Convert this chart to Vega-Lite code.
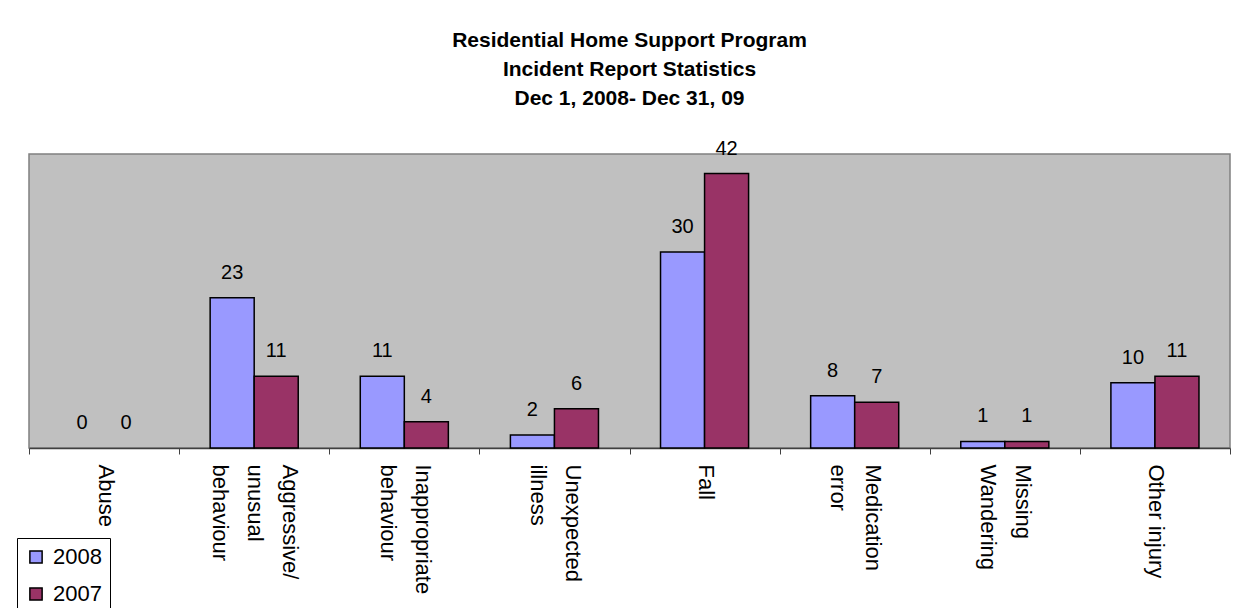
{
  "$schema": "https://vega.github.io/schema/vega-lite/v6.json",
  "autosize": "none",
  "width": 1201,
  "height": 294,
  "padding": {"left": 29, "top": 154, "right": 17, "bottom": 160},
  "background": "white",
  "title": {
    "text": ["Residential Home Support Program", "Incident Report Statistics", "Dec 1, 2008- Dec 31, 09"],
    "font": "Liberation Sans",
    "fontSize": 21,
    "fontWeight": "bold",
    "lineHeight": 29,
    "color": "black",
    "anchor": "middle",
    "frame": "group",
    "offset": 30
  },
  "data": {
    "values": [
      {"category": "Abuse", "year": "2008", "count": 0},
      {"category": "Abuse", "year": "2007", "count": 0},
      {"category": "Aggressive/ unusual behaviour", "year": "2008", "count": 23},
      {"category": "Aggressive/ unusual behaviour", "year": "2007", "count": 11},
      {"category": "Inappropriate behaviour", "year": "2008", "count": 11},
      {"category": "Inappropriate behaviour", "year": "2007", "count": 4},
      {"category": "Unexpected illness", "year": "2008", "count": 2},
      {"category": "Unexpected illness", "year": "2007", "count": 6},
      {"category": "Fall", "year": "2008", "count": 30},
      {"category": "Fall", "year": "2007", "count": 42},
      {"category": "Medication error", "year": "2008", "count": 8},
      {"category": "Medication error", "year": "2007", "count": 7},
      {"category": "Missing Wandering", "year": "2008", "count": 1},
      {"category": "Missing Wandering", "year": "2007", "count": 1},
      {"category": "Other injury", "year": "2008", "count": 10},
      {"category": "Other injury", "year": "2007", "count": 11}
    ]
  },
  "encoding": {
    "x": {
      "field": "category",
      "type": "nominal",
      "sort": null,
      "scale": {"paddingInner": 0, "paddingOuter": 0},
      "axis": {
        "title": null,
        "labelAngle": 90,
        "labelAlign": "left",
        "labelBaseline": "middle",
        "labelFont": "Liberation Sans",
        "labelFontSize": 22,
        "labelColor": "black",
        "labelLineHeight": 35,
        "labelPadding": 10,
        "labelOffset": {
          "condition": [
            {"test": "datum.value == 'Aggressive/ unusual behaviour'", "value": 35},
            {"test": "datum.value == 'Abuse' || datum.value == 'Fall' || datum.value == 'Other injury'", "value": 1}
          ],
          "value": 18
        },
        "labelExpr": "!isValid(datum.value) ? '' : (datum.value == 'Other injury' ? datum.value : split(datum.value, ' '))",
        "labelLimit": 300,
        "tickBand": "extent",
        "tickSize": 6,
        "tickColor": "#404040",
        "tickWidth": 1,
        "domainColor": "#404040",
        "domainWidth": 1.5,
        "grid": false
      }
    },
    "xOffset": {
      "field": "year",
      "type": "nominal",
      "sort": ["2008", "2007"],
      "scale": {"paddingInner": 0, "paddingOuter": 0.7045}
    },
    "y": {
      "field": "count",
      "type": "quantitative",
      "scale": {"domain": [0, 45], "nice": false},
      "axis": null
    }
  },
  "layer": [
    {
      "mark": {"type": "bar", "strokeWidth": 1.5},
      "encoding": {
        "stroke": {"condition": {"test": "datum.count == 0", "value": null}, "value": "black"},
        "color": {
          "field": "year",
          "type": "nominal",
          "sort": ["2008", "2007"],
          "scale": {"domain": ["2008", "2007"], "range": ["#9999FF", "#993366"]},
          "legend": {
            "title": null,
            "orient": "none",
            "legendX": -12,
            "legendY": 384,
            "direction": "vertical",
            "symbolType": "square",
            "symbolSize": 150,
            "symbolStrokeColor": "black",
            "symbolStrokeWidth": 1.5,
            "symbolOpacity": 1,
            "labelFont": "Liberation Sans",
            "labelFontSize": 22,
            "labelColor": "black",
            "labelOffset": 6,
            "rowPadding": 15,
            "padding": 8,
            "strokeColor": "black",
            "fillColor": "white"
          }
        }
      }
    },
    {
      "mark": {
        "type": "text",
        "font": "Liberation Sans",
        "fontSize": 20,
        "color": "black",
        "baseline": "alphabetic",
        "dy": -19
      },
      "encoding": {
        "text": {"field": "count", "type": "quantitative"}
      }
    }
  ],
  "config": {
    "view": {"fill": "#C0C0C0", "stroke": "#808080", "strokeWidth": 1.5}
  }
}
